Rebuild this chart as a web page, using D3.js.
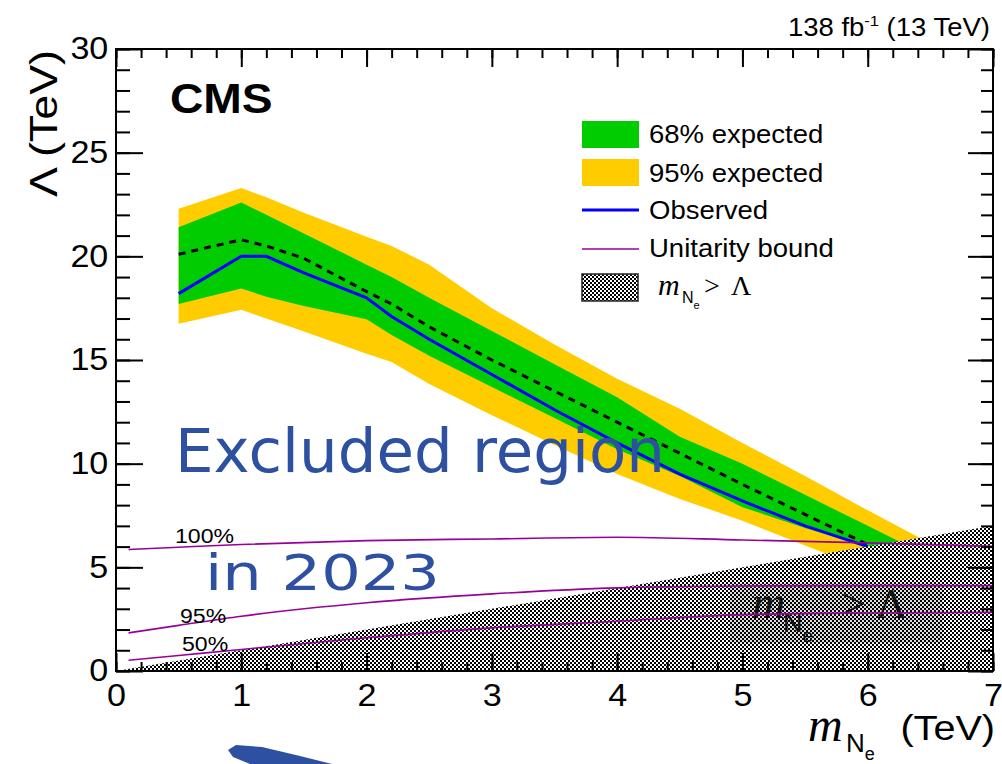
<!DOCTYPE html>
<html>
<head>
<meta charset="utf-8">
<script src="https://cdn.jsdelivr.net/npm/d3@7.9.0/dist/d3.min.js"></script>
<style>
  body { margin: 0; background: #fff; }
  svg { display: block; }
  text { font-family: "Liberation Sans", Arial, Helvetica, sans-serif; fill: #000; }
</style>
</head>
<body>
<svg id="chart" width="1002" height="764"></svg>
<script>
// heavy neutrino mass points (TeV)
const masses    = [0.5, 1.0, 1.2, 1.5, 2.0, 2.2, 2.5, 3.0, 3.5, 4.0, 4.5, 5.0, 5.5, 6.0, 6.5];
// limits on Lambda (TeV)
const expected  = [20.1, 20.8, 20.5, 19.9, 18.3, 17.7, 16.6, 15.0, 13.5, 12.0, 10.5, 9.0, 7.55, 6.1, 4.8];
const observed  = [18.2, 20.0, 20.0, 19.2, 18.0, 17.1, 16.0, 14.3, 12.6, 11.0, 9.5, 8.2, 7.0, 6.0, 5.0];
const band68Up  = [21.4, 22.6, 22.0, 21.1, 19.6, 19.0, 18.0, 16.4, 14.8, 13.2, 11.3, 10.0, 8.5, 7.0, 5.5];
const band68Lo  = [17.7, 18.45, 18.05, 17.6, 16.97, 16.2, 15.2, 13.7, 12.2, 10.7, 9.4, 7.9, 6.9, 6.0, 5.0];
const band95Up  = [22.3, 23.3, 22.85, 22.1, 20.95, 20.5, 19.6, 17.5, 15.75, 14.1, 12.65, 11.0, 9.4, 7.75, 6.15];
const band95Lo  = [16.75, 17.42, 17.0, 16.37, 15.3, 14.9, 13.84, 12.34, 10.9, 9.5, 8.3, 7.25, 6.05, 4.9, 3.8];

// unitarity bounds
const unitMass  = [0.1, 0.5, 1, 2, 3, 4, 5, 6, 7];
const unit100   = [5.86, 5.97, 6.1, 6.29, 6.37, 6.45, 6.32, 6.18, 6.01];
const unit95    = [1.84, 2.2, 2.64, 3.29, 3.72, 4.01, 4.1, 4.12, 4.12];
const unit50    = [0.52, 0.75, 1.04, 1.6, 2.08, 2.4, 2.72, 2.8, 2.83];
const unitNames = ['100%', '95%', '50%'];

// m_N > Lambda edge
const hatchEdge = [0, 7];

const svg = d3.select('#chart');
const x = d3.scaleLinear().domain([0, 7]).range([116, 993]);
const y = d3.scaleLinear().domain([0, 30]).range([671, 49]);
const STRETCH = 1.1;

// hatch pattern (fine checker)
const defs = svg.append('defs');
const pat = defs.append('pattern').attr('id', 'hatch')
  .attr('patternUnits', 'userSpaceOnUse').attr('width', 4).attr('height', 4);
pat.append('rect').attr('width', 4).attr('height', 4).attr('fill', '#fff');
pat.append('rect').attr('width', 2).attr('height', 2).attr('fill', '#000');
pat.append('rect').attr('x', 2).attr('y', 2).attr('width', 2).attr('height', 2).attr('fill', '#000');
defs.append('clipPath').attr('id', 'plotclip')
  .append('rect').attr('x', 116).attr('y', 49).attr('width', 877).attr('height', 622);

const plot = svg.append('g').attr('clip-path', 'url(#plotclip)');

const pts = masses.map((m, i) => ({
  m, exp: expected[i], obs: observed[i],
  up68: band68Up[i], lo68: band68Lo[i], up95: band95Up[i], lo95: band95Lo[i]
}));

plot.append('path').datum(pts)
  .attr('d', d3.area().x(d => x(d.m)).y0(d => y(d.lo95)).y1(d => y(d.up95)))
  .attr('fill', '#ffcc00');
plot.append('path').datum(pts)
  .attr('d', d3.area().x(d => x(d.m)).y0(d => y(d.lo68)).y1(d => y(d.up68)))
  .attr('fill', '#00cc00');
plot.append('path').datum(pts)
  .attr('d', d3.line().x(d => x(d.m)).y(d => y(d.exp)))
  .attr('fill', 'none').attr('stroke', '#000').attr('stroke-width', 3)
  .attr('stroke-dasharray', '7,6');
plot.append('path').datum(pts.filter(d => d.m <= 6))
  .attr('d', d3.line().x(d => x(d.m)).y(d => y(d.obs)))
  .attr('fill', 'none').attr('stroke', '#0000ff').attr('stroke-width', 3);

// m_N > Lambda region
plot.append('path').datum(hatchEdge)
  .attr('d', d3.area().x(d => x(d)).y0(y(0)).y1(d => y(d)))
  .attr('fill', 'url(#hatch)');
plot.append('rect')
  .attr('x', 730).attr('y', 583).attr('width', 213).attr('height', 60)
  .attr('fill', '#000').attr('fill-opacity', 0.13);
const inner = plot.append('text').attr('y', 618).style('fill', '#111');
inner.append('tspan').attr('x', 752).style('font-family', '"Liberation Serif", serif')
  .style('font-style', 'italic').style('font-size', '46px').text('m');
inner.append('tspan').attr('x', 783).attr('y', 632).style('font-size', '27px').text('N');
inner.append('tspan').attr('y', 642).style('font-size', '19px').text('e');
inner.append('tspan').attr('x', 842).attr('y', 618).style('font-family', '"Liberation Serif", serif')
  .style('font-size', '42px').text('>  Λ');

// unitarity bounds
[unit100, unit95, unit50].forEach(vals => {
  plot.append('path').datum(vals)
    .attr('d', d3.line().x((d, i) => x(unitMass[i])).y(d => y(d)).curve(d3.curveMonotoneX))
    .attr('fill', 'none').attr('stroke', '#990099').attr('stroke-width', 1.6);
});
const unitLabelPos = [[175, 543], [180, 623], [182, 651]];
unitNames.forEach((n, i) => {
  svg.append('text')
    .attr('transform', `translate(${unitLabelPos[i][0]},${unitLabelPos[i][1]}) scale(${STRETCH},1)`)
    .style('font-size', '21px').text(n);
});

// axes
function styleAxis(g) {
  g.select('.domain').remove();
  g.selectAll('line').attr('stroke', '#000').attr('stroke-width', 2);
  g.selectAll('text').style('font-size', '31px').style('font-family', '"Liberation Sans", Arial, sans-serif');
}
const minorX = d3.range(0, 7.001, 0.2);
const minorY = d3.range(0, 30.001, 1);

svg.append('g').attr('transform', `translate(0,${y(0)})`)
  .call(d3.axisBottom(x).tickValues(minorX).tickSize(-9).tickFormat(''))
  .call(styleAxis);
svg.append('g').attr('transform', `translate(0,${y(0)})`)
  .call(d3.axisBottom(x).ticks(7).tickSize(-18).tickPadding(13).tickFormat(d3.format('d')))
  .call(styleAxis)
  .call(g => g.selectAll('text').attr('transform', `scale(${STRETCH},1)`));
svg.append('g').attr('transform', `translate(0,${y(30)})`)
  .call(d3.axisTop(x).tickValues(minorX).tickSize(-9).tickFormat(''))
  .call(styleAxis);
svg.append('g').attr('transform', `translate(0,${y(30)})`)
  .call(d3.axisTop(x).ticks(7).tickSize(-18).tickFormat(''))
  .call(styleAxis);
svg.append('g').attr('transform', `translate(${x(0)},0)`)
  .call(d3.axisLeft(y).tickValues(minorY).tickSize(-14).tickFormat(''))
  .call(styleAxis);
svg.append('g').attr('transform', `translate(${x(0)},0)`)
  .call(d3.axisLeft(y).ticks(6).tickSize(-27).tickPadding(7).tickFormat(d3.format('d')))
  .call(styleAxis)
  .call(g => g.selectAll('text').attr('transform', `scale(${STRETCH},1)`));
svg.append('g').attr('transform', `translate(${x(7)},0)`)
  .call(d3.axisRight(y).tickValues(minorY).tickSize(-12).tickFormat(''))
  .call(styleAxis);
svg.append('g').attr('transform', `translate(${x(7)},0)`)
  .call(d3.axisRight(y).ticks(6).tickSize(-25).tickFormat(''))
  .call(styleAxis);

svg.append('rect')
  .attr('x', x(0)).attr('y', y(30)).attr('width', x(7) - x(0)).attr('height', y(0) - y(30))
  .attr('fill', 'none').attr('stroke', '#000').attr('stroke-width', 2);

// axis titles
svg.append('text')
  .attr('transform', 'translate(57,50) rotate(-90)')
  .attr('text-anchor', 'end').attr('textLength', 147).attr('lengthAdjust', 'spacingAndGlyphs')
  .style('font-size', '38px').text('Λ (TeV)');

const xt = svg.append('text').attr('y', 741);
xt.append('tspan').attr('x', 808).style('font-family', '"Liberation Serif", serif')
  .style('font-style', 'italic').style('font-size', '48px').text('m');
xt.append('tspan').attr('x', 846).attr('y', 752).style('font-size', '26px').text('N');
xt.append('tspan').attr('y', 760).style('font-size', '18px').text('e');
svg.append('text')
  .attr('transform', `translate(995,740) scale(${STRETCH},1)`)
  .attr('text-anchor', 'end').style('font-size', '36px').text('(TeV)');

// header texts
svg.append('text')
  .attr('transform', `translate(170,113) scale(${STRETCH},1)`)
  .style('font-size', '42px').style('font-weight', 'bold').text('CMS');
const lumi = svg.append('text')
  .attr('transform', `translate(990,36) scale(${STRETCH},1)`)
  .attr('text-anchor', 'end').style('font-size', '25px');
lumi.append('tspan').text('138 fb');
lumi.append('tspan').attr('dy', -10).style('font-size', '15px').text('-1');
lumi.append('tspan').attr('dy', 10).text(' (13 TeV)');

// legend
const legend = svg.append('g');
legend.append('rect').attr('x', 582).attr('y', 121).attr('width', 57).attr('height', 27).attr('fill', '#00cc00');
legend.append('rect').attr('x', 582).attr('y', 159).attr('width', 57).attr('height', 27).attr('fill', '#ffcc00');
legend.append('line').attr('x1', 582).attr('x2', 639).attr('y1', 210).attr('y2', 210)
  .attr('stroke', '#0000ff').attr('stroke-width', 3);
legend.append('line').attr('x1', 582).attr('x2', 639).attr('y1', 249).attr('y2', 249)
  .attr('stroke', '#990099').attr('stroke-width', 1.6);
legend.append('rect').attr('x', 582).attr('y', 274).attr('width', 56).attr('height', 27)
  .attr('fill', 'url(#hatch)').attr('stroke', '#222').attr('stroke-width', 1.5);
const legendText = [['68% expected', 143], ['95% expected', 182], ['Observed', 219], ['Unitarity bound', 257]];
legendText.forEach(([t, by]) => {
  legend.append('text')
    .attr('transform', `translate(649,${by}) scale(${STRETCH},1)`)
    .style('font-size', '25px').text(t);
});
const lm = legend.append('text').attr('y', 295);
lm.append('tspan').attr('x', 658).style('font-family', '"Liberation Serif", serif')
  .style('font-style', 'italic').style('font-size', '30px').text('m');
lm.append('tspan').attr('x', 682).attr('y', 303).style('font-size', '16px').text('N');
lm.append('tspan').attr('y', 309).style('font-size', '11px').text('e');
lm.append('tspan').attr('x', 704).attr('y', 295).style('font-family', '"Liberation Serif", serif')
  .style('font-size', '28px').text('>');
lm.append('tspan').attr('x', 731).style('font-family', '"Liberation Serif", serif')
  .style('font-size', '28px').text('Λ');

// handwritten annotation
const ink = '#2d51a0';
svg.append('text').attr('x', 175).attr('y', 472)
  .attr('textLength', 490).attr('lengthAdjust', 'spacingAndGlyphs')
  .style('font-family', '"DejaVu Sans", sans-serif').style('font-size', '60px')
  .style('fill', ink).text('Excluded region');
svg.append('text').attr('x', 205).attr('y', 590)
  .attr('textLength', 235).attr('lengthAdjust', 'spacingAndGlyphs')
  .style('font-family', '"DejaVu Sans", sans-serif').style('font-size', '50px')
  .style('fill', ink).text('in 2023');
svg.append('path')
  .attr('d', 'M228,750 L236,745 L262,747 L300,756 L332,764 L250,764 L233,757 Z')
  .attr('fill', ink);
</script>
</body>
</html>
